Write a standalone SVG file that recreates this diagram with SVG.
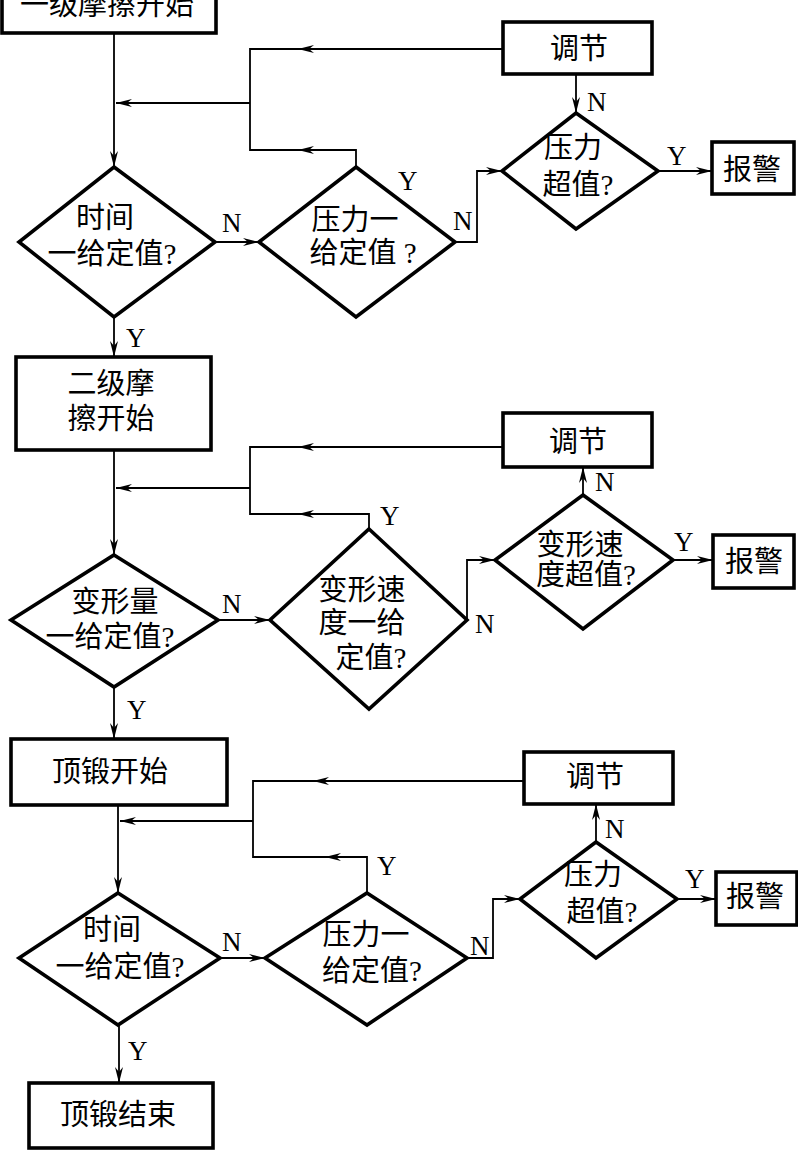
<svg xmlns="http://www.w3.org/2000/svg" width="798" height="1150" viewBox="0 0 798 1150">
<style>
.box{fill:#fff;stroke:#000;stroke-width:3.6}
.dia{fill:#fff;stroke:#000;stroke-width:3.6;stroke-linejoin:miter}
.ln{fill:none;stroke:#000;stroke-width:1.8}
.t{font-family:"Liberation Serif","Noto Sans CJK SC",serif;font-size:29px;fill:#000;text-anchor:middle}
.l{font-family:"Liberation Serif",serif;font-size:27px;fill:#000}
</style>
<defs>
<marker id="ar" viewBox="0 0 16 8" refX="16" refY="4" markerWidth="16" markerHeight="8" markerUnits="userSpaceOnUse" orient="auto">
<path d="M0,0 L16,4 L0,8 L5,4 Z" fill="#000"/>
</marker>
</defs>
<rect width="798" height="1150" fill="#fff"/>
<g id="connectors">
<path class="ln" d="M114,33 V167" marker-end="url(#ar)"/>
<path class="ln" d="M250,103 H116" marker-end="url(#ar)"/>
<path class="ln" d="M503,49 H298" marker-end="url(#ar)"/>
<path class="ln" d="M298,49 H250 V150 H298"/>
<path class="ln" d="M356,167 V150 H298" marker-end="url(#ar)"/>
<path class="ln" d="M215,242 H259" marker-end="url(#ar)"/>
<path class="ln" d="M455,242 H477 V171 H502" marker-end="url(#ar)"/>
<path class="ln" d="M576,74 V113" marker-end="url(#ar)"/>
<path class="ln" d="M658,171 H712" marker-end="url(#ar)"/>
<path class="ln" d="M114,317 V357" marker-end="url(#ar)"/>
<path class="ln" d="M114,450 V555" marker-end="url(#ar)"/>
<path class="ln" d="M250,488 H116" marker-end="url(#ar)"/>
<path class="ln" d="M503,447 H298" marker-end="url(#ar)"/>
<path class="ln" d="M298,447 H250 V514 H298"/>
<path class="ln" d="M369,529 V514 H298" marker-end="url(#ar)"/>
<path class="ln" d="M218,620 H270" marker-end="url(#ar)"/>
<path class="ln" d="M467,620 V560 H495" marker-end="url(#ar)"/>
<path class="ln" d="M583,495 V467" marker-end="url(#ar)"/>
<path class="ln" d="M673,560 H713" marker-end="url(#ar)"/>
<path class="ln" d="M114,687 V739" marker-end="url(#ar)"/>
<path class="ln" d="M118,805 V893" marker-end="url(#ar)"/>
<path class="ln" d="M253,821 H120" marker-end="url(#ar)"/>
<path class="ln" d="M524,781 H313" marker-end="url(#ar)"/>
<path class="ln" d="M313,781 H253 V857 H325"/>
<path class="ln" d="M367,893 V857 H325" marker-end="url(#ar)"/>
<path class="ln" d="M220,958 H265" marker-end="url(#ar)"/>
<path class="ln" d="M467,958 H493 V899 H520" marker-end="url(#ar)"/>
<path class="ln" d="M596,842 V804" marker-end="url(#ar)"/>
<path class="ln" d="M677,899 H716" marker-end="url(#ar)"/>
<path class="ln" d="M119,1025 V1083" marker-end="url(#ar)"/>
</g>
<g id="labels">
<text class="l" x="222" y="232">N</text>
<text class="l" x="398" y="190">Y</text>
<text class="l" x="453" y="230">N</text>
<text class="l" x="587" y="111">N</text>
<text class="l" x="667" y="165">Y</text>
<text class="l" x="126" y="347">Y</text>
<text class="l" x="222" y="613">N</text>
<text class="l" x="380" y="525">Y</text>
<text class="l" x="475" y="633">N</text>
<text class="l" x="595" y="491">N</text>
<text class="l" x="674" y="551">Y</text>
<text class="l" x="127" y="719">Y</text>
<text class="l" x="222" y="951">N</text>
<text class="l" x="377" y="875">Y</text>
<text class="l" x="470" y="955">N</text>
<text class="l" x="605" y="838">N</text>
<text class="l" x="685" y="888">Y</text>
<text class="l" x="128" y="1060">Y</text>
</g>
<g id="n1"><rect class="box" x="2" y="-30" width="214" height="63"/><text class="t" x="107" y="15">一级摩擦开始</text></g>
<g id="d1"><polygon class="dia" points="114,167 215,242 114,317 19,242"/><text class="t" x="105" y="228">时间</text><text class="t" x="112" y="264">一给定值?</text></g>
<g id="d2"><polygon class="dia" points="356,167 455,242 356,317 259,242"/><text class="t" x="355" y="230">压力一</text><text class="t" x="363" y="263">给定值 ?</text></g>
<g id="d3"><polygon class="dia" points="576,113 658,171 576,229 502,171"/><text class="t" x="573" y="158">压力</text><text class="t" x="578" y="195">超值?</text></g>
<g id="n2"><rect class="box" x="503" y="22" width="149" height="52"/><text class="t" x="579" y="59">调节</text></g>
<g id="n3"><rect class="box" x="712" y="142" width="82" height="52"/><text class="t" x="752" y="180">报警</text></g>
<g id="n4"><rect class="box" x="16" y="357" width="195" height="93"/><text class="t" x="111" y="394">二级摩</text><text class="t" x="111" y="429">擦开始</text></g>
<g id="d4"><polygon class="dia" points="114,555 218,620 114,687 11,620"/><text class="t" x="115" y="612">变形量</text><text class="t" x="110" y="647">一给定值?</text></g>
<g id="d5"><polygon class="dia" points="369,529 467,620 369,709 270,620"/><text class="t" x="362" y="600">变形速</text><text class="t" x="362" y="633">度一给</text><text class="t" x="371" y="668">定值?</text></g>
<g id="d6"><polygon class="dia" points="583,495 673,560 583,629 495,560"/><text class="t" x="580" y="555">变形速</text><text class="t" x="586" y="585">度超值?</text></g>
<g id="n5"><rect class="box" x="503" y="413" width="149" height="54"/><text class="t" x="578" y="452">调节</text></g>
<g id="n6"><rect class="box" x="713" y="535" width="81" height="53"/><text class="t" x="754" y="572">报警</text></g>
<g id="n7"><rect class="box" x="11" y="739" width="216" height="66"/><text class="t" x="110" y="782">顶锻开始</text></g>
<g id="d7"><polygon class="dia" points="118,893 220,958 118,1025 19,958"/><text class="t" x="112" y="940">时间</text><text class="t" x="120" y="977">一给定值?</text></g>
<g id="d8"><polygon class="dia" points="367,893 467,958 367,1025 265,958"/><text class="t" x="366" y="945">压力一</text><text class="t" x="372" y="981">给定值?</text></g>
<g id="d9"><polygon class="dia" points="596,842 677,899 596,958 520,899"/><text class="t" x="593" y="885">压力</text><text class="t" x="602" y="922">超值?</text></g>
<g id="n8"><rect class="box" x="524" y="752" width="149" height="52"/><text class="t" x="595" y="787">调节</text></g>
<g id="n9"><rect class="box" x="716" y="872" width="81" height="53"/><text class="t" x="755" y="907">报警</text></g>
<g id="n10"><rect class="box" x="29" y="1083" width="184" height="65"/><text class="t" x="118" y="1125">顶锻结束</text></g>
</svg>
